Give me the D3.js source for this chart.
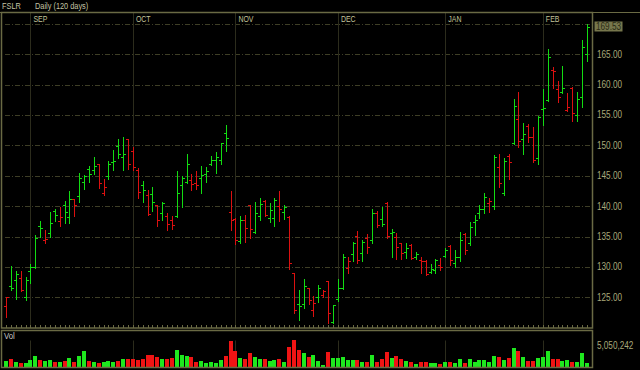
<!DOCTYPE html>
<html>
<head>
<meta charset="utf-8">
<script src="https://cdn.jsdelivr.net/npm/d3@7"></script>
<style>
  html, body { margin: 0; padding: 0; background: #000; }
  svg { display: block; }
</style>
</head>
<body>
<svg id="chart"></svg>
<script>
// Chart size
const width = 640;
const height = 370;

// Ticker and header
const symbol = "FSLR";
const period = "Daily (120 days)";

// Daily bars, Aug 2010 - Feb 2011
const open = [
    123.6, 126.8, 127.9, 128.1, 125.0, 129.3, 130.0, 136.8, 134.4, 135.5,
    139.2, 137.5, 140.2, 138.2, 141.2, 141.7, 144.0, 146.1, 145.9, 146.9,
    142.2, 145.0, 147.2, 149.9, 148.0, 151.0, 149.0, 145.9, 143.5, 141.8,
    142.0, 140.2, 138.8, 138.4, 137.7, 138.3, 143.5, 143.9, 144.3, 143.75,
    144.6, 145.2, 147.0, 147.6, 147.6, 152.0, 139.1, 137.9, 134.3, 137.7,
    140.2, 135.8, 138.3, 140.9, 138.0, 138.0, 140.0, 139.1, 138.2, 129.0,
    123.9, 123.9, 126.5, 122.9, 125.1, 125.4, 127.6, 121.0, 124.8, 126.5,
    129.8, 132.1, 135.1, 132.3, 134.7, 134.4, 138.8, 137.8, 140.5, 135.6,
    135.0, 133.9, 132.5, 133.6, 131.6, 131.1, 131.0, 129.2, 129.5, 130.3,
    131.8, 133.5, 130.7, 131.7, 135.4, 133.9, 137.4, 138.9, 139.5, 140.5,
    140.0, 146.5, 142.1, 148.2, 150.3, 154.3, 151.0, 153.1, 151.4, 147.9,
    155.9, 157.45, 162.4, 159.2, 158.8, 155.8, 159.5, 155.0, 157.9, 165.0
];
const high = [
    125.1, 130.1, 129.4, 129.3, 128.4, 130.4, 135.3, 137.6, 136.1, 139.0,
    139.5, 139.9, 140.9, 142.5, 141.2, 145.5, 145.1, 146.6, 148.1, 147.0,
    144.5, 147.5, 149.3, 151.1, 151.4, 151.1, 149.8, 146.2, 144.1, 142.6,
    143.2, 140.2, 140.7, 138.8, 138.3, 145.7, 144.9, 148.6, 145.3, 145.7,
    146.6, 146.5, 148.2, 148.9, 150.4, 153.3, 142.5, 138.0, 138.4, 138.5,
    140.2, 140.7, 141.3, 141.0, 140.5, 141.3, 142.5, 140.2, 138.4, 129.0,
    126.2, 128.0, 126.5, 125.2, 127.1, 126.2, 127.7, 123.8, 128.0, 132.1,
    131.6, 134.1, 135.9, 134.4, 135.4, 139.6, 139.2, 139.9, 140.7, 136.2,
    135.5, 134.0, 133.9, 133.8, 132.5, 131.6, 131.1, 130.5, 131.3, 131.4,
    133.1, 133.6, 132.7, 135.8, 135.5, 137.4, 138.5, 140.2, 142.1, 141.4,
    148.4, 148.6, 147.9, 148.6, 157.6, 158.8, 153.7, 153.5, 153.0, 154.8,
    159.2, 165.8, 162.9, 160.6, 163.0, 158.6, 159.6, 158.8, 167.4, 169.95
];
const low = [
    121.7, 126.2, 124.7, 126.1, 124.5, 127.4, 129.8, 135.0, 133.9, 135.0,
    137.6, 136.7, 137.3, 137.3, 138.4, 140.7, 142.8, 144.0, 145.3, 142.9,
    141.8, 144.4, 145.9, 147.9, 145.9, 146.1, 145.9, 141.3, 140.7, 138.5,
    139.2, 136.8, 137.7, 136.1, 136.3, 138.2, 139.9, 143.8, 142.6, 142.8,
    142.2, 144.0, 146.8, 145.4, 146.9, 149.0, 136.1, 133.8, 134.0, 134.1,
    134.7, 135.6, 137.7, 138.4, 137.4, 136.7, 137.6, 137.8, 129.6, 122.4,
    121.3, 123.2, 123.9, 121.9, 124.3, 125.0, 120.8, 120.8, 124.4, 126.3,
    129.0, 130.9, 130.6, 131.0, 132.3, 133.9, 136.5, 136.8, 134.7, 131.6,
    131.3, 131.3, 131.4, 131.3, 131.3, 129.0, 128.7, 129.0, 129.0, 129.5,
    131.6, 130.3, 130.0, 130.9, 132.2, 133.6, 135.2, 138.0, 138.9, 139.1,
    139.6, 143.2, 141.8, 144.4, 150.2, 149.7, 148.6, 150.6, 147.3, 147.0,
    153.3, 157.3, 159.5, 157.2, 158.6, 155.7, 154.0, 154.0, 156.25, 163.9
];
const close = [
    125.0, 126.5, 128.8, 126.2, 127.9, 130.0, 134.8, 136.4, 134.6, 137.2,
    138.5, 138.2, 139.0, 141.2, 140.2, 144.7, 145.0, 145.3, 146.6, 143.8,
    143.2, 147.0, 147.5, 148.5, 148.6, 147.0, 146.5, 142.4, 142.6, 138.7,
    140.6, 137.7, 140.5, 137.1, 136.9, 142.2, 144.7, 147.0, 143.6, 143.5,
    145.1, 145.7, 147.6, 148.1, 150.3, 151.2, 137.7, 134.4, 137.7, 136.4,
    136.3, 138.8, 140.3, 138.5, 139.4, 141.0, 139.6, 139.8, 130.7, 122.9,
    123.5, 126.9, 124.6, 124.0, 126.5, 126.0, 122.4, 123.7, 126.6, 131.6,
    131.0, 134.0, 131.1, 134.1, 133.3, 138.9, 136.9, 137.1, 135.1, 135.7,
    133.2, 132.3, 133.1, 131.4, 132.2, 130.9, 128.8, 129.7, 131.1, 130.0,
    132.8, 131.1, 131.7, 134.5, 132.8, 136.5, 137.7, 139.5, 141.5, 140.9,
    148.0, 143.75, 147.5, 147.3, 156.5, 150.75, 151.9, 151.4, 147.6, 154.7,
    156.1, 164.5, 162.2, 157.9, 159.4, 156.25, 155.3, 157.6, 166.1, 169.53
];
// close of the day before the first bar
const prevClose = 126.0;

// Volume, millions of shares
const volume = [
    1.07, 1.39, 0.95, 0.69, 0.69, 1.26, 2.02, 1.26, 1.07, 1.26,
    0.95, 0.88, 1.07, 1.64, 0.95, 2.02, 2.97, 1.14, 0.95, 0.76,
    0.88, 1.07, 0.95, 1.14, 1.51, 1.51, 1.45, 1.33, 1.51, 2.21,
    2.21, 1.77, 1.39, 1.51, 1.64, 3.16, 2.21, 2.02, 1.83, 0.88,
    1.07, 0.76, 0.88, 0.76, 1.26, 2.02, 4.86, 2.97, 1.64, 1.45,
    2.53, 1.77, 1.51, 1.39, 1.14, 1.26, 1.39, 0.88, 3.66, 5.05,
    3.16, 2.65, 1.83, 2.15, 1.14, 0.38, 2.78, 1.64, 1.64, 1.77,
    1.26, 1.26, 1.26, 0.95, 0.88, 2.21, 0.95, 1.51, 2.78, 1.64,
    1.96, 1.45, 1.14, 0.88, 0.50, 0.88, 0.88, 0.63, 0.63, 0.50,
    0.88, 0.88, 0.63, 1.39, 0.69, 1.39, 0.95, 1.26, 1.26, 0.82,
    2.02, 1.83, 1.26, 1.64, 3.53, 2.97, 1.89, 1.14, 1.14, 1.64,
    1.89, 2.90, 1.39, 1.39, 1.14, 1.26, 0.88, 0.88, 2.53, 0.63
];
const volumeMax = 5050242;

// Month markers (first bar of each month)
const monthLabels = ["SEP", "OCT", "NOV", "DEC", "JAN", "FEB"];
const monthStart = [5, 26, 47, 68, 90, 110];

// Price axis ticks
const priceTicks = [125, 130, 135, 140, 145, 150, 155, 160, 165, 170];

// Layout
const plot = { left: 2, right: 592.5 };
const pricePanel = { top: 12.5, bottom: 328 };
const volPanel = { top: 330.5, bottom: 367.5 };

const upColor = "#12dc12";
const downColor = "#dc1010";
const volUp = "#1ee81e";
const volDown = "#f01414";
const frameColor = "#6a6a44";
const gridColor = "#3e3e26";
const textColor = "#a9a97a";
const font = "'Liberation Sans', Arial, sans-serif";
// the source chart uses a condensed face
const squeeze = 0.82;

const n = close.length;
const idx = d3.range(n);

const x = d3.scaleLinear().domain([0, n - 1]).range([6, 586.8]);
const y = d3.scaleLinear().domain([125, 165]).range([297.3, 54.1]);
const yVol = d3.scaleLinear().domain([0, volumeMax / 1e6]).range([366.5, 340]);

const px = v => Math.round(v) + 0.5;

const svg = d3.select("#chart")
    .attr("width", width)
    .attr("height", height)
    .attr("viewBox", [0, 0, width, height]);

svg.append("rect")
    .attr("width", width)
    .attr("height", height)
    .attr("fill", "#000");

// condensed text helper
function label(g, tx, ty, str, size, color, dy) {
    return g.append("text")
        .attr("transform", `translate(${tx},${ty}) scale(${squeeze},1)`)
        .attr("dy", dy || 0)
        .attr("fill", color)
        .style("font", `${size}px ${font}`)
        .text(str);
}

// clip for the price panel
svg.append("defs").append("clipPath")
    .attr("id", "priceClip")
    .append("rect")
    .attr("x", plot.left)
    .attr("y", pricePanel.top)
    .attr("width", plot.right - plot.left)
    .attr("height", pricePanel.bottom - pricePanel.top);

const pg = svg.append("g").attr("clip-path", "url(#priceClip)");

// horizontal grid
pg.append("g")
    .selectAll("line")
    .data(priceTicks)
    .join("line")
    .attr("x1", plot.left + 3)
    .attr("x2", plot.right)
    .attr("y1", d => px(y(d)))
    .attr("y2", d => px(y(d)))
    .attr("stroke", gridColor)
    .attr("stroke-dasharray", "5,2,1,2");

// month separators
pg.append("g")
    .selectAll("line")
    .data(monthStart)
    .join("line")
    .attr("x1", d => px(x(d)))
    .attr("x2", d => px(x(d)))
    .attr("y1", pricePanel.top)
    .attr("y2", pricePanel.bottom)
    .attr("stroke", "#2c2c1c");

svg.append("g")
    .selectAll("line")
    .data(monthStart)
    .join("line")
    .attr("x1", d => px(x(d)))
    .attr("x2", d => px(x(d)))
    .attr("y1", 340.5)
    .attr("y2", volPanel.bottom)
    .attr("stroke", "#2c2c1c");

// month labels
const mg = svg.append("g");
monthLabels.forEach((m, i) => label(mg, x(monthStart[i]) + 3, 21.5, m, 8.5, "#c4c49a"));

// OHLC bars, coloured against previous close
const barColor = i => close[i] >= (i === 0 ? prevClose : close[i - 1]) ? upColor : downColor;

const bars = pg.append("g")
    .selectAll("g")
    .data(idx)
    .join("g")
    .attr("stroke", barColor);

bars.append("line")
    .attr("x1", i => px(x(i)))
    .attr("x2", i => px(x(i)))
    .attr("y1", i => Math.round(y(high[i])))
    .attr("y2", i => Math.round(y(low[i])) + 1);

bars.append("line")
    .attr("x1", i => px(x(i)) - 2.5)
    .attr("x2", i => px(x(i)))
    .attr("y1", i => px(y(open[i])))
    .attr("y2", i => px(y(open[i])));

bars.append("line")
    .attr("x1", i => px(x(i)))
    .attr("x2", i => px(x(i)) + 2.5)
    .attr("y1", i => px(y(close[i])))
    .attr("y2", i => px(y(close[i])));

// bottom tick marks of the price panel
svg.append("g")
    .selectAll("line")
    .data(idx)
    .join("line")
    .attr("x1", i => px(x(i)))
    .attr("x2", i => px(x(i)))
    .attr("y1", pricePanel.bottom - 3)
    .attr("y2", pricePanel.bottom)
    .attr("stroke", frameColor);

// volume bars, coloured by close vs open
svg.append("g")
    .selectAll("rect")
    .data(idx)
    .join("rect")
    .attr("x", i => Math.round(x(i)) - 2)
    .attr("width", 4)
    .attr("y", i => Math.round(yVol(volume[i])))
    .attr("height", i => Math.round(yVol(0)) - Math.round(yVol(volume[i])))
    .attr("fill", i => close[i] >= open[i] ? volUp : volDown);

// panel frames
svg.append("line")
    .attr("x1", 0).attr("x2", width)
    .attr("y1", pricePanel.top).attr("y2", pricePanel.top)
    .attr("stroke", frameColor);

[pricePanel, volPanel].forEach(p => {
    svg.append("rect")
        .attr("x", plot.left - 0.5)
        .attr("y", p.top)
        .attr("width", plot.right - plot.left + 0.5)
        .attr("height", p.bottom - p.top)
        .attr("fill", "none")
        .attr("stroke", frameColor)
        .attr("stroke-width", 1.5);
});

// price axis labels (the one under the last-price marker is hidden)
const last = close[n - 1];
const ag = svg.append("g");
priceTicks
    .filter(d => Math.abs(y(d) - y(last)) > 8)
    .forEach(d => label(ag, 597, y(d), d3.format(".2f")(d), 10, textColor, "0.35em"));

// last price marker
svg.append("rect")
    .attr("x", 594.5)
    .attr("y", Math.round(y(last)) - 5.5)
    .attr("width", 28)
    .attr("height", 10)
    .attr("fill", "#76764c");

label(svg, 596, y(last), d3.format(".2f")(last), 10, "#2a2a14", "0.35em");

// volume scale label
label(svg, 597, 345.5, d3.format(",")(volumeMax), 10, textColor, "0.35em");
label(svg, 4, 339, "Vol", 9.5, "#c8c8c8");

// header
label(svg, 2, 9, symbol, 9, "#c4c4a4");
label(svg, 35, 9, period, 9, "#c4c4a4");
</script>
</body>
</html>
